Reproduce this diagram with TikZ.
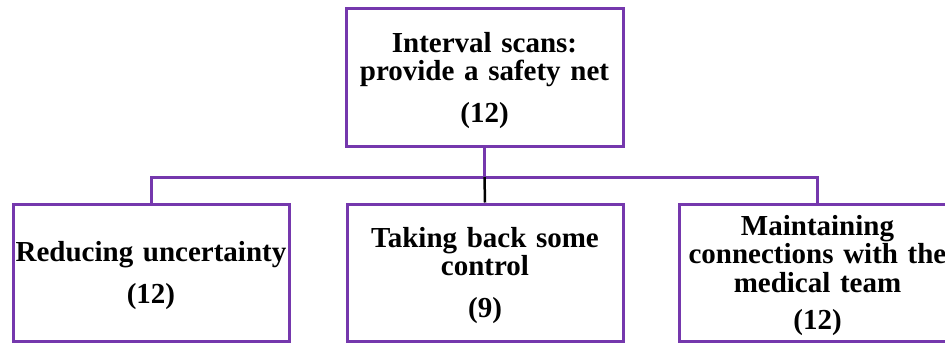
\documentclass[tikz,border=0pt]{standalone}
\usepackage{fontspec}
\setmainfont{Liberation Serif}
\definecolor{boxpurple}{HTML}{7538AD}
\tikzset{
  boxframe/.style={draw=boxpurple, line width=3pt, fill=white, inner sep=0pt,
    minimum width=276pt, minimum height=137pt},
  boxtext/.style={inner sep=0pt, align=center, text width=276pt,
    font=\bfseries\fontsize{29}{28.5}\selectfont},
  conn/.style={draw=boxpurple, line width=3pt},
  blackconn/.style={draw=black, line width=2.5pt}
}
\begin{document}
\begin{tikzpicture}[x=1pt,y=-1pt]
\useasboundingbox (0,0) rectangle (945,343);
\clip (0,0) rectangle (945,343);
\node[boxframe, minimum width=277pt, minimum height=138pt] (top) at (484.5,77.5) {};
\node[boxframe] (left) at (151,272.5) {};
\node[boxframe] (mid) at (485,272.5) {};
\node[boxframe] (right) at (817.5,272.5) {};
\node[boxtext] (toptext) at ([yshift=-3pt]top.center)
  {Interval scans:\\provide a safety net\\[13pt](12)};
\node[boxtext] (lefttext) at ([yshift=-3pt]left.center)
  {Reducing uncertainty\\[13pt](12)};
\node[boxtext] (midtext) at ([yshift=-3pt]mid.center)
  {Taking back some\\control\\[13pt](9)};
\node[boxtext] (righttext) at ([yshift=-3pt]right.center)
  {Maintaining\\connections with the\\medical team\\[9pt](12)};
\draw[conn] (top.south) -- ++(0,29) coordinate (j);
\draw[conn] (left.north) |- (j);
\draw[conn] (right.north) |- (j);
\draw[blackconn] (j) -- (mid.north);
\end{tikzpicture}
\end{document}
